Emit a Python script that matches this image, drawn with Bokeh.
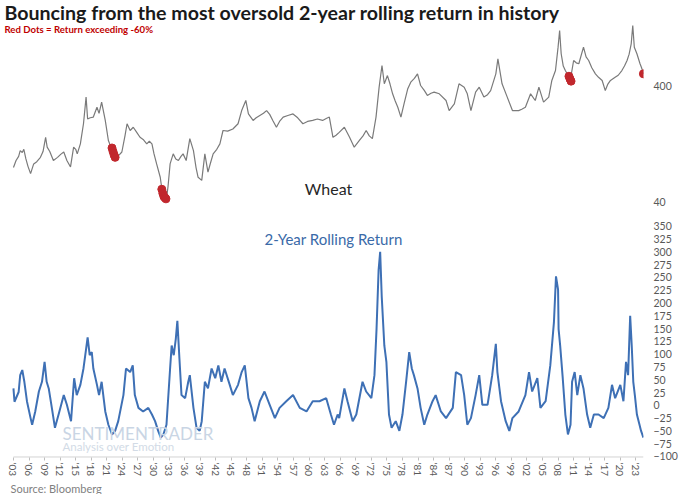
from bokeh.plotting import figure
from bokeh.layouts import column
from bokeh.models import Range1d, FixedTicker, Label, Title, NumeralTickFormatter
from bokeh.embed import file_html
from bokeh.resources import INLINE

# ---------------- data ----------------
price_years = [1903.0, 1903.5, 1904.0, 1904.3, 1904.7, 1905.0, 1905.4, 1905.8, 1906.3, 1906.9,
               1907.5, 1908.2, 1908.7, 1909.2, 1909.5, 1910.0, 1910.7, 1911.5, 1912.1, 1912.7,
               1913.3, 1914.0, 1914.6, 1915.0, 1915.3, 1915.9, 1916.5, 1917.0, 1917.3, 1917.8,
               1918.4, 1919.1, 1919.5, 1920.0, 1920.7, 1921.3, 1921.8, 1922.3, 1922.9, 1923.4,
               1923.9, 1924.5, 1924.9, 1925.5, 1926.1, 1926.8, 1927.4, 1928.0, 1928.7, 1929.2,
               1929.7, 1930.1, 1930.6, 1931.3, 1931.7, 1932.1, 1932.5, 1932.8, 1933.2, 1933.8,
               1934.3, 1934.8, 1935.3, 1935.7, 1936.3, 1937.0, 1937.7, 1938.2, 1938.6, 1939.3,
               1939.9, 1940.5, 1941.0, 1941.5, 1942.2, 1942.8, 1943.4, 1944.3, 1945.3, 1946.3,
               1947.0, 1947.8, 1948.3, 1949.2, 1949.8, 1950.5, 1951.2, 1951.8, 1952.4, 1953.0,
               1953.7, 1954.3, 1955.0, 1955.9, 1956.9, 1957.8, 1958.8, 1959.7, 1960.7, 1961.6,
               1962.6, 1963.3, 1963.9, 1964.6, 1965.2, 1965.8, 1966.8, 1967.8, 1968.7, 1969.7,
               1970.4, 1971.0, 1971.6, 1972.2, 1972.9, 1973.5, 1974.05, 1974.5, 1975.1, 1975.6,
               1976.1, 1976.6, 1977.1, 1977.7, 1978.3, 1979.0, 1979.6, 1980.3, 1980.9, 1981.5,
               1982.2, 1982.8, 1983.5, 1984.1, 1985.1, 1986.4, 1987.0, 1988.0, 1988.9, 1989.9,
               1990.5, 1991.2, 1992.1, 1992.8, 1993.7, 1994.4, 1995.0, 1996.0, 1996.4, 1997.2,
               1998.2, 1999.2, 2000.4, 2001.0, 2001.7, 2002.7, 2003.6, 2004.3, 2005.2, 2006.2,
               2006.8, 2007.5, 2008.0, 2008.3, 2008.6, 2009.0, 2009.4, 2009.9, 2010.4, 2011.0,
               2011.5, 2012.0, 2012.9, 2013.4, 2013.9, 2014.5, 2015.2, 2015.8, 2016.5, 2017.1,
               2017.6, 2018.1, 2019.0, 2019.6, 2020.3, 2020.8, 2021.3, 2021.7, 2022.1, 2022.4,
               2022.7, 2023.2, 2023.8, 2024.1, 2024.45]
price_values = [80, 92, 100, 112, 108, 115, 95, 82, 71, 86,
                90, 98, 110, 146, 120, 110, 92, 98, 104, 109,
                92, 81, 120, 115, 105, 128, 191, 324, 210, 215,
                218, 265, 235, 293, 204, 137, 120, 109, 98, 103,
                109, 150, 191, 167, 178, 160, 146, 140, 128, 135,
                128, 105, 86, 66, 49, 45, 43, 55, 86, 105,
                95, 92, 100, 105, 92, 142, 112, 80, 66, 62,
                105, 73, 88, 105, 115, 128, 167, 165, 172, 191,
                248, 303, 232, 204, 215, 225, 235, 248, 230, 204,
                178, 200, 218, 225, 232, 215, 191, 200, 204, 210,
                204, 212, 218, 146, 152, 161, 178, 146, 120, 137,
                150, 167, 150, 142, 218, 395, 607, 422, 497, 420,
                346, 300, 265, 218, 283, 380, 436, 470, 514, 408,
                370, 335, 350, 358, 346, 303, 248, 283, 422, 395,
                346, 248, 358, 395, 324, 340, 369, 514, 693, 422,
                324, 248, 248, 255, 265, 346, 303, 395, 293, 324,
                451, 549, 873, 1216, 766, 600, 549, 500, 466, 670,
                640, 628, 873, 720, 670, 580, 514, 480, 451, 369,
                420, 451, 480, 500, 549, 600, 670, 760, 933, 1342,
                873, 766, 628, 580, 514]

dot_years = [1922.0, 1922.2, 1922.4, 1922.6, 1931.6, 1931.8, 1932.0, 1932.2, 1932.4,
             2010.1, 2010.3, 2010.5, 2024.45]
dot_prices = [118, 110, 103, 98, 52, 48, 45, 44, 43, 490, 465, 445, 514]

ret_years = [1903.0, 1903.2, 1904.0, 1904.3, 1904.7, 1905.1, 1905.6, 1906.3, 1906.6, 1907.2,
             1907.9, 1908.5, 1909.0, 1909.4, 1909.8, 1910.4, 1911.0, 1911.7, 1912.7, 1913.3,
             1914.1, 1914.7, 1915.2, 1915.9, 1916.5, 1917.0, 1917.3, 1917.7, 1918.1, 1918.4,
             1919.1, 1919.5, 1920.0, 1920.7, 1921.3, 1922.0, 1922.6, 1923.2, 1924.2, 1924.7,
             1925.5, 1926.0, 1926.4, 1927.1, 1928.0, 1929.0, 1929.7, 1930.3, 1930.9, 1931.4,
             1931.9, 1932.5, 1933.2, 1933.5, 1933.9, 1934.3, 1934.6, 1935.0, 1935.4, 1936.1,
             1936.7, 1937.0, 1937.7, 1938.3, 1938.9, 1939.3, 1939.9, 1940.5, 1941.2, 1941.9,
             1942.5, 1943.1, 1943.7, 1944.7, 1945.3, 1946.3, 1947.0, 1947.6, 1948.3, 1948.9,
             1949.5, 1950.5, 1951.4, 1952.4, 1953.4, 1954.3, 1955.6, 1956.9, 1958.2, 1959.5,
             1960.7, 1962.0, 1963.3, 1964.2, 1964.8, 1965.5, 1965.8, 1966.8, 1967.4, 1968.4,
             1969.1, 1970.3, 1971.0, 1972.0, 1972.6, 1973.0, 1973.4, 1973.7, 1974.0, 1974.5,
             1974.9, 1975.4, 1975.9, 1976.7, 1977.4, 1978.0, 1978.7, 1979.3, 1979.8, 1980.2,
             1980.9, 1981.5, 1982.2, 1982.8, 1983.8, 1984.4, 1985.4, 1986.4, 1987.7, 1988.3,
             1989.3, 1989.9, 1990.5, 1991.2, 1992.1, 1992.8, 1993.4, 1994.4, 1995.3, 1996.0,
             1996.3, 1997.0, 1997.9, 1998.6, 1999.2, 2000.4, 2001.7, 2002.4, 2003.0, 2004.0,
             2004.6, 2005.6, 2006.5, 2007.2, 2007.6, 2008.0, 2008.1, 2008.4, 2008.9, 2009.4,
             2009.9, 2010.4, 2010.7, 2011.2, 2011.7, 2012.3, 2012.9, 2013.6, 2014.2, 2014.9,
             2015.8, 2016.8, 2017.7, 2018.4, 2019.0, 2020.0, 2020.6, 2021.1, 2021.5, 2021.9,
             2022.2, 2022.5, 2022.8, 2023.2, 2023.7, 2024.0, 2024.45]
ret_values = [33, 7, 26, 59, 69, 46, 8, -25, -38, -12,
              27, 46, 85, 46, 33, -5, -44, -18, 20, 1,
              -31, 53, 20, 40, 72, 110, 133, 98, 104, 72,
              40, 20, 46, -12, -38, -57, -50, -31, 20, 72,
              65, 78, 20, -5, -12, -5, -18, -31, -50, -63,
              -57, -38, 72, 117, 98, 130, 165, 91, 20, 14,
              46, 59, -5, -44, -50, -31, 46, 33, 72, 53,
              78, 46, 72, 40, 20, 40, 65, 78, 14, -5,
              -31, 8, 27, 1, -25, -5, 8, 20, -5, -12,
              8, 8, 14, -18, -38, -18, -25, 33, 8, -31,
              -18, 46, 27, 14, 59, 149, 265, 300, 213, 117,
              85, -18, -44, -31, -50, -18, 46, 104, 72, 59,
              33, -5, -38, -18, 8, 20, -12, -25, -5, 65,
              59, 20, -38, -25, 20, 59, 1, 1, 59, 120,
              65, 8, -31, -50, -25, -12, 20, 65, 27, 53,
              -5, 8, 78, 162, 252, 226, 149, 117, 53, -18,
              -57, -38, 46, 65, 20, 59, 33, -18, -44, -18,
              -18, -25, -5, 40, 14, 40, 8, 85, 59, 175,
              117, 46, 20, -18, -38, -50, -63]

tick_years = list(range(1903, 2024, 3))
tick_labels = ["'%02d" % (y % 100) for y in tick_years]
price_ticks = [40, 400, 4000]
ret_ticks = list(range(-100, 351, 25))

# ---------------- styling ----------------
FONT = "Lato"
AXIS_COL = "#595959"
X_START = 1903.0
X_END = 2024.47
PX_PER_YEAR = 5.203
LEFT_PAD = 13  # px between canvas edge and the first year
x_range = Range1d(X_START - LEFT_PAD / PX_PER_YEAR, X_END)

def clean(p):
    p.grid.visible = False
    p.outline_line_color = None
    p.background_fill_color = "white"
    p.border_fill_color = "white"

def style_yaxis(ax):
    ax.axis_line_color = None
    ax.major_tick_line_color = None
    ax.minor_tick_line_color = None
    ax.major_tick_out = 0
    ax.major_tick_in = 0
    ax.minor_tick_out = 0
    ax.major_label_standoff = 10
    ax.major_label_text_font = FONT
    ax.major_label_text_font_size = "10.5px"
    ax.major_label_text_color = AXIS_COL

# ---------------- top: wheat price (log) ----------------
top = figure(width=680, height=215, x_range=x_range, y_range=Range1d(30.9, 2205),
             y_axis_type="log", y_axis_location="right", x_axis_location=None,
             output_backend="svg", toolbar_location=None, title=None,
             min_border_left=0, min_border_right=35, min_border_top=0, min_border_bottom=0)
clean(top)
top.line(price_years, price_values, line_color="#7A7A7A", line_width=1.2)
top.scatter(dot_years, dot_prices, size=8, fill_color="#C1272D", line_color="#C1272D")
ya = top.yaxis[0]
ya.ticker = FixedTicker(ticks=price_ticks)
ya.formatter = NumeralTickFormatter(format="0")
style_yaxis(ya)

top.add_layout(Label(x=4, y=203, x_units="screen", y_units="screen",
                     text="Bouncing from the most oversold 2-year rolling return in history",
                     text_font=FONT, text_font_style="bold", text_font_size="19.6px",
                     text_color="#1A1A1A", text_baseline="middle", text_align="left"))
top.add_layout(Label(x=4, y=186, x_units="screen", y_units="screen",
                     text="Red Dots = Return exceeding -60%",
                     text_font=FONT, text_font_style="bold", text_font_size="9.6px",
                     text_color="#C00000", text_baseline="middle", text_align="left"))
top.add_layout(Label(x=328, y=27, x_units="screen", y_units="screen", text="Wheat",
                     text_font=FONT, text_font_size="16px", text_color="#262626",
                     text_baseline="middle", text_align="center"))

# ---------------- bottom: 2-year rolling return ----------------
bot = figure(width=680, height=279, x_range=x_range, y_range=Range1d(-102, 371),
             y_axis_location="right", output_backend="svg", toolbar_location=None, title=None,
             min_border_left=0, min_border_right=35, min_border_top=0, min_border_bottom=0)
clean(bot)
# x-axis baseline only under the span of the data (axis's own line would run to the canvas edge)
bot.segment(x0=[X_START], y0=[-101.3], x1=[X_END], y1=[-101.3], line_color="#BFBFBF", line_width=1)
bot.line(ret_years, ret_values, line_color="#3E70B5", line_width=2)
yb = bot.yaxis[0]
yb.ticker = FixedTicker(ticks=ret_ticks)
style_yaxis(yb)

xb = bot.xaxis[0]
xb.ticker = FixedTicker(ticks=tick_years)
xb.major_label_overrides = {y: l for y, l in zip(tick_years, tick_labels)}
xb.major_label_orientation = "vertical"
xb.axis_line_color = None
xb.major_tick_line_color = "#BFBFBF"
xb.major_tick_out = 3
xb.major_tick_in = 0
xb.minor_tick_line_color = None
xb.minor_tick_out = 0
xb.major_label_standoff = 2
xb.major_label_text_font = FONT
xb.major_label_text_font_size = "10px"
xb.major_label_text_color = AXIS_COL

bot.add_layout(Title(text="Source: Bloomberg", align="left", offset=10, standoff=0,
                     text_font=FONT, text_font_style="normal", text_font_size="11px",
                     text_color="#7F7F7F"), "below")

bot.add_layout(Label(x=333, y=219, x_units="screen", y_units="screen",
                     text="2-Year Rolling Return", text_font=FONT, text_font_size="15px",
                     text_color="#3A6AA8", text_baseline="middle", text_align="center"))
bot.add_layout(Label(x=62, y=24, x_units="screen", y_units="screen", text="SENTIMENTRADER",
                     text_font=FONT, text_font_size="17px", text_color="#C9D5E4",
                     text_baseline="middle", text_align="left"))
bot.add_layout(Label(x=62, y=11, x_units="screen", y_units="screen", text="Analysis over Emotion",
                     text_font=FONT, text_font_size="11.5px", text_color="#D2DBE6",
                     text_baseline="middle", text_align="left"))

layout = column(top, bot, spacing=0)
open("out.html", "w").write(file_html(layout, INLINE))
